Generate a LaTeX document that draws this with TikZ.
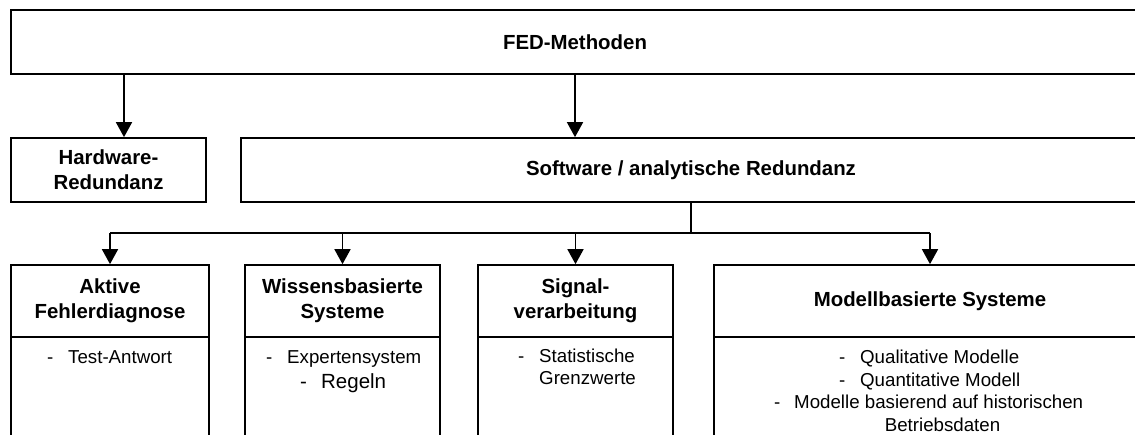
\documentclass[tikz,border=0pt]{standalone}
\usepackage{fontspec}
\setmainfont{Liberation Sans}
\usetikzlibrary{arrows.meta}
\newcommand\ttlfont{\fontsize{20.4}{25}\selectfont\bfseries}
\newcommand\itmfont{\fontsize{18.7}{22.5}\selectfont}
\newcommand\bigitmfont{\fontsize{20.5}{24}\selectfont}
\begin{document}
\begin{tikzpicture}[x=1pt,y=-1pt,
  box/.style={draw, line width=1.7pt, inner sep=0pt, align=center, font=\ttlfont},
  line/.style={draw, line width=1.7pt},
  arr/.style={line, -{Triangle[length=15pt,width=16pt]}},
  item/.style={inner sep=0pt, anchor=base west, font=\itmfont}]
\useasboundingbox (0,0) rectangle (1135,434);
\fill[white] (0,0) rectangle (1135,434);
\clip (0,0) rectangle (1135,434);

% top level
\node[box, minimum width=1128pt, minimum height=64pt] (fed) at (575,42) {FED-Methoden};

% second level
\node[box, minimum width=195pt, minimum height=64pt] (hw) at (108.5,170) {Hardware-\\Redundanz};
\node[box, minimum width=900pt, minimum height=64pt] (sw) at (691,170) {Software / analytische Redundanz};

% third level: title part and body part of each box
\node[box, minimum width=198pt, minimum height=72pt] (t1) at (110,301) {Aktive\\Fehlerdiagnose};
\node[box, minimum width=195pt, minimum height=72pt] (t2) at (342.5,301) {Wissensbasierte\\Systeme};
\node[box, minimum width=195pt, minimum height=72pt] (t3) at (575.5,301) {Signal-\\verarbeitung};
\node[box, minimum width=432pt, minimum height=72pt] (t4) at (930,301) {Modellbasierte Systeme};

\node[box, minimum width=198pt, minimum height=163pt] (b1) at (110,418.5) {};
\node[box, minimum width=195pt, minimum height=163pt] (b2) at (342.5,418.5) {};
\node[box, minimum width=195pt, minimum height=163pt] (b3) at (575.5,418.5) {};
\node[box, minimum width=432pt, minimum height=163pt] (b4) at (930,418.5) {};

% list entries
\node[item] (i1) at (47,363) {\makebox[21pt][l]{-}Test-Antwort};
\node[item] (i2) at (266,363) {\makebox[21pt][l]{-}Expertensystem};
\node[item, font=\bigitmfont] (i3) at (300,388) {\makebox[21pt][l]{-}Regeln};
\node[item] (i4) at (518,362) {\makebox[21pt][l]{-}Statistische};
\node[item] (i5) at (539,384) {Grenzwerte};
\node[item] (i6) at (839,363) {\makebox[21pt][l]{-}Qualitative Modelle};
\node[item] (i7) at (839,386) {\makebox[21pt][l]{-}Quantitative Modell};
\node[item] (i8) at (774,408) {\makebox[20pt][l]{-}Modelle basierend auf historischen};
\node[item, anchor=base] (i9) at (942.5,431) {Betriebsdaten};

% connectors
\coordinate (hwx) at (124,0);
\coordinate (swx) at (575,0);
\coordinate (bus) at (0,233);
\draw[arr] (fed.south -| hwx) -- (hw.north -| hwx);
\draw[arr] (fed.south -| swx) -- (sw.north -| swx);
\draw[line] (sw.south) -- (sw.south |- bus);
\draw[line] (t1.north |- bus) -- (t4.north |- bus);
\foreach \n in {t1,t2,t3,t4}
  \draw[arr] (\n.north |- bus) -- (\n.north);
\end{tikzpicture}
\end{document}
